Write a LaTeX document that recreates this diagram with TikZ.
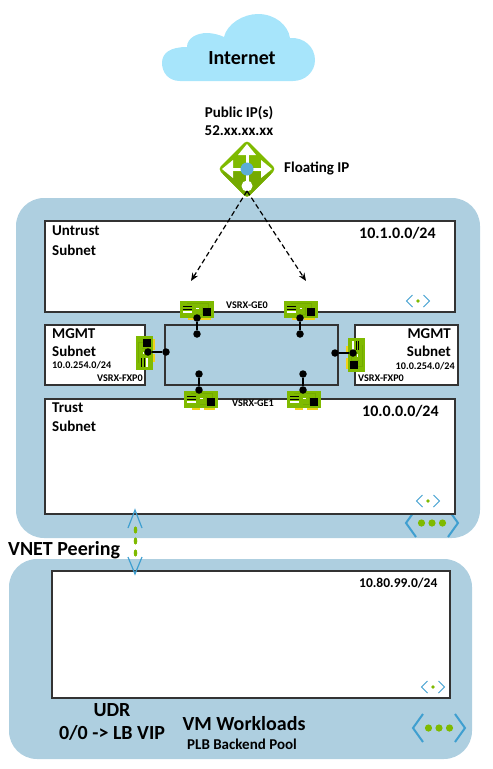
\documentclass[tikz,border=0pt]{standalone}
\usepackage{fontspec}
\setmainfont{Carlito}
\usetikzlibrary{arrows.meta}
\usetikzlibrary{calc}
\definecolor{vnetblue}{HTML}{AECFE0}
\definecolor{iconblue}{HTML}{3F9FD0}
\definecolor{azgreen}{HTML}{7FBA00}
\definecolor{azgreendk}{HTML}{74AA00}
\definecolor{cloudblue}{HTML}{A7E5FB}
\definecolor{padyellow}{HTML}{F2D21B}
\definecolor{edgegray}{HTML}{333333}
\tikzset{xl/.style={font=\fontsize{20}{20}\selectfont\bfseries, inner sep=0}}
\tikzset{l/.style={font=\fontsize{16}{16}\selectfont\bfseries, inner sep=0}}
\tikzset{m/.style={font=\fontsize{15}{15}\selectfont\bfseries, inner sep=0}}
\tikzset{s/.style={font=\fontsize{13.5}{13.5}\selectfont\bfseries, inner sep=0}}
\tikzset{xs/.style={font=\fontsize{10.2}{10.2}\selectfont\bfseries, inner sep=0}}
\tikzset{vnet/.style={fill=vnetblue, inner sep=0, rounded corners=28}}
\tikzset{subnet/.style={draw=edgegray, fill=white, line width=1.1pt, inner sep=0}}
\tikzset{dot/.style={circle, fill=black, inner sep=0, minimum size=7.5}}
\tikzset{wire/.style={line width=1.2pt, black}}
\tikzset{nic/.pic={
    \fill [padyellow] (-9,8) rectangle (-1,10.5);
    \fill [padyellow] (3,8) rectangle (14,10.5);
    \fill [azgreen] (-17,-8.5) rectangle (17,8.5);
    \draw [azgreendk, line width=.6pt] (-10,-6) -- (11,-6) -- (11,-2);
    \draw [azgreendk, line width=.6pt] (-1,5) -- (5,5) -- (5,-3);
    \fill [black] (-14,-3.2) rectangle (-5,-2.2);
    \fill [black] (-14,-1) rectangle (-5,.2);
    \fill [white] (-14,1.8) rectangle (-5,3.6);
    \fill [white] (-1,-2) rectangle (1.5,-.8);
    \fill [black] (6,-2) rectangle (14,6.5);
  }}
\tikzset{subnetmark/.pic={
    \draw [iconblue, line width=.9pt] (-5.5,-6) -- (-11.5,0) -- (-5.5,6);
    \draw [iconblue, line width=.9pt] (5.5,-6) -- (11.5,0) -- (5.5,6);
    \fill [azgreen] (0,0) circle (1.8);
  }}
\tikzset{vnetmark/.pic={
    \draw [iconblue, line width=2pt] (-16,-14) -- (-26,0) -- (-16,14);
    \draw [iconblue, line width=2pt] (16,-14) -- (26,0) -- (16,14);
    \foreach \dx in {-10.5,0,10.5}
      \fill [azgreen] (\dx,0) circle (3.6);
  }}

\begin{document}
\begin{tikzpicture}[x=1pt, y=-1pt, >={Stealth[length=8pt,width=6.5pt]}]
    \useasboundingbox (0,0) rectangle (493,769);
    % blue vnets
    \node (vneta) at (248,368) [vnet, minimum width=464, minimum height=340] {};
    \node (vnetb) at (240.5,659) [vnet, minimum width=463, minimum height=200] {};
    \path (432,523) pic {vnetmark};
    \path (439,728) pic {vnetmark};
    % cloud
    \fill [cloudblue] (180,81) .. controls (168,81) and (162,72) .. (162,63)
      .. controls (162,53) and (170,47) .. (187,47)
      .. controls (187,38) and (197,33) .. (207,33)
      .. controls (213,33) and (220,35) .. (224,37)
      .. controls (227,24) and (243,14) .. (258,14)
      .. controls (275,14) and (288,25) .. (290,38)
      .. controls (304,37) and (315,47) .. (315,60)
      .. controls (315,72) and (305,81) .. (293,81) -- cycle;
    \node (internet) at (242,58) [xl] {Internet};
    \node (pubip) at (239,113) [m] {Public IP(s)};
    \node (pubaddr) at (239,131) [m] {52.xx.xx.xx};
    % subnets
    \node (untrust) at (250,266.5) [subnet, minimum width=410, minimum height=91] {};
    \node (trust) at (250,456.5) [subnet, minimum width=410, minimum height=115] {};
    \node (mgmta) at (95,355) [subnet, minimum width=100, minimum height=60] {};
    \node (mgmtb) at (406.5,355) [subnet, minimum width=103, minimum height=60] {};
    \node (fw) at (251.5,355) [draw=edgegray, line width=1.1pt, inner sep=0, minimum width=173, minimum height=60] {};
    \node (backend) at (251,634.5) [subnet, minimum width=398, minimum height=127] {};
    % subnet texts
    \node (untrusta) at (52,231) [anchor=west, m] {Untrust};
    \node (untrustb) at (52,250) [anchor=west, m] {Subnet};
    \node (untrustc) at (359,233) [anchor=west, l] {10.1.0.0/24};
    \node (mgmtat) at (52,334) [anchor=west, m] {MGMT};
    \node (mgmtau) at (52,351) [anchor=west, m] {Subnet};
    \node (mgmtav) at (52,365) [anchor=west, xs] {10.0.254.0/24};
    \node (mgmtaw) at (143,378) [anchor=east, xs] {VSRX-FXP0};
    \node (mgmtbt) at (451,334) [anchor=east, m] {MGMT};
    \node (mgmtbu) at (451,351) [anchor=east, m] {Subnet};
    \node (mgmtbv) at (455,366) [anchor=east, xs] {10.0.254.0/24};
    \node (mgmtbw) at (358,378) [anchor=west, xs] {VSRX-FXP0};
    \node (trusta) at (52,408) [anchor=west, m] {Trust};
    \node (trustb) at (52,426) [anchor=west, m] {Subnet};
    \node (trustc) at (362,411) [anchor=west, l] {10.0.0.0/24};
    \node (gezero) at (247,305) [xs] {VSRX-GE0};
    \node (geone) at (253,403) [xs] {VSRX-GE1};
    \node (backendc) at (359,583) [anchor=west, s] {10.80.99.0/24};
    % floating ip diamond
    \node (floating) at (284,168) [anchor=west, m] {Floating IP};
    \fill [azgreen, rounded corners=4] (247,140) -- (276,169) -- (247,198) -- (218,169) -- cycle;
    \fill [azgreendk, rounded corners=3] (221,172) -- (247,198) -- (273,172) -- cycle;
    \draw [white, line width=3pt] (228,169) -- (266,169) (247,150) -- (247,186);
    \fill [white] (247,144) -- (256,155) -- (238,155) -- cycle;
    \fill [white] (222,169) -- (233,160) -- (233,178) -- cycle;
    \fill [white] (272,169) -- (261,160) -- (261,178) -- cycle;
    \fill [white] (247,186) circle (5.5);
    \fill [iconblue!85!white] (247,169) circle (6.5);
    % dashed arrows
    \coordinate (fipfoot) at (247,191);
    \coordinate (untrustl) at (191,281);
    \coordinate (untrustr) at (306,281);
    \draw [->, dash pattern=on 5pt off 3pt, line width=1.2pt] (fipfoot) -- (untrustl);
    \draw [->, dash pattern=on 5pt off 3pt, line width=1.2pt] (fipfoot) -- (untrustr);
    % nics
    \path (197,309.5) pic {nic};
    \path (300.5,309.5) pic {nic};
    \path (201,399.5) pic {nic};
    \path (304,399.5) pic {nic};
    \path (144.5,353) pic [rotate=90] {nic};
    \path (356,355) pic [rotate=-90] {nic};
    % wires and dots
    \node (dota) at (197,318) [dot] {};
    \node (dotb) at (197,334) [dot]  {}
      edge [wire] (dota);
    \node (dotc) at (300,318) [dot] {};
    \node (dotd) at (300,334) [dot] {}
      edge [wire] (dotc);
    \node (dote) at (199,374) [dot] {};
    \node (dotf) at (199,390) [dot] {}
      edge [wire] (dote);
    \node (dotg) at (303,374) [dot] {};
    \node (doth) at (303,390) [dot] {}
      edge [wire] (dotg);
    \node (doti) at (148,352) [dot] {};
    \node (dotj) at (166,352) [dot] {}
      edge [wire] (doti);
    \node (dotk) at (335,353) [dot] {};
    \node (dotl) at (353,353) [dot] {}
      edge [wire] (dotk);
    % subnet marks
    \path (418,301) pic {subnetmark};
    \path (428,501) pic {subnetmark};
    \path (433,687) pic {subnetmark};
    % peering
    \draw [iconblue, line width=1.2pt] (128,528) -- (135,510) -- (142,528);
    \draw [iconblue, line width=1.2pt] (128,557) -- (135,574) -- (142,557);
    \foreach \py in {530,541,553}
      \fill [azgreen] (135.5,\py) ellipse (1.8 and 3.6);
    % bottom texts
    \node (peering) at (8,550) [anchor=west, xl] {VNET Peering};
    \node (udr) at (112,710) [xl] {UDR};
    \node (route) at (112,733) [xl] {0/0 -> LB VIP};
    \node (workloads) at (244,724) [xl] {VM Workloads};
    \node (pool) at (242,744) [m] {PLB Backend Pool};
  \end{tikzpicture}
\end{document}
